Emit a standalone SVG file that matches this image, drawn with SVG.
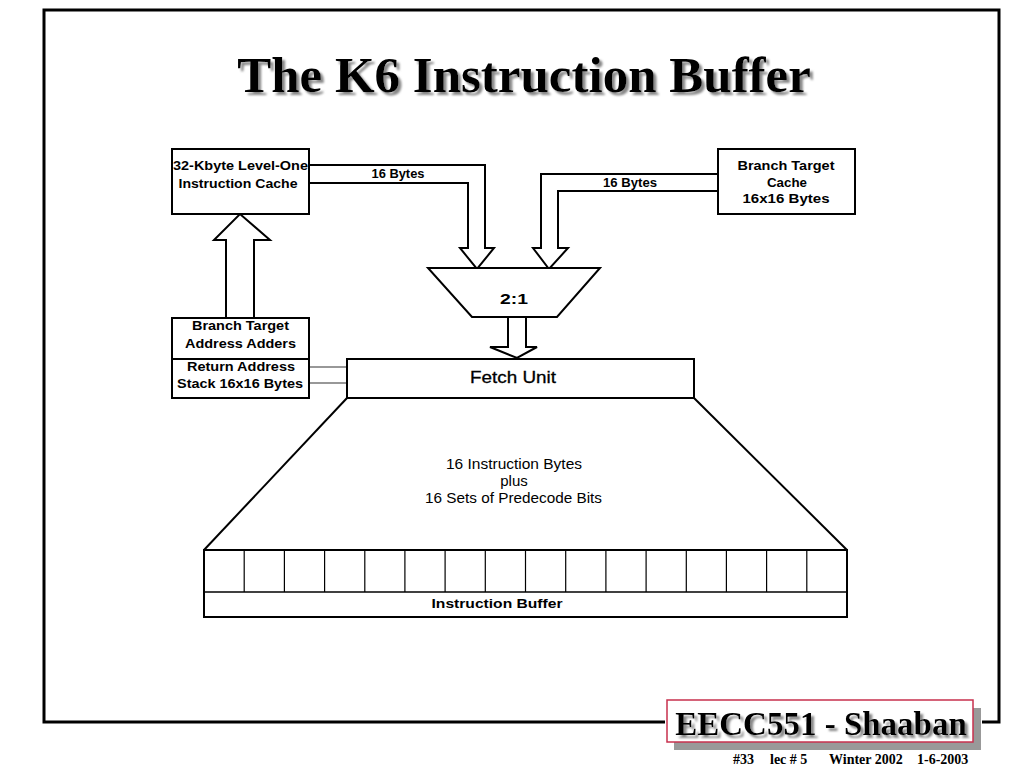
<svg xmlns="http://www.w3.org/2000/svg" width="1024" height="768" viewBox="0 0 1024 768">
<defs>
<style>
.box{fill:#fff;stroke:#000;stroke-width:2}
.pipe{fill:#fff;stroke:#000;stroke-width:2;stroke-linejoin:miter}
.thin{fill:none;stroke:#333;stroke-width:1.2}
.lb{font-family:"Liberation Sans",Arial,sans-serif;font-weight:bold;font-size:12.5px;fill:#000;text-anchor:middle}
.ln{font-family:"Liberation Sans",Arial,sans-serif;font-size:15px;fill:#000;text-anchor:middle}
.tt{font-family:"Liberation Serif","Times New Roman",serif;font-weight:bold;text-anchor:middle}
.ft{font-family:"Liberation Serif","Times New Roman",serif;font-weight:bold;font-size:14px;fill:#000}
</style>
<filter id="shadow" x="-5%" y="-20%" width="110%" height="140%">
<feDropShadow dx="3" dy="3" stdDeviation="0.8" flood-color="#888" flood-opacity="1"/>
</filter>
</defs>
<rect width="1024" height="768" fill="#fff"/>

<g id="frame">
<polyline points="665,722 44,722 44,10 999,10 999,722 982,722" fill="none" stroke="#000" stroke-width="3"/>
</g>

<g id="title">
<text class="tt" x="524" y="92" style="font-size:51px" fill="#000" filter="url(#shadow)">The K6 Instruction Buffer</text>
</g>

<g id="connectors">
<path class="pipe" d="M309,165 H485 V248 H494 L477,269 L460,248 H468 V183 H309"/>
<path class="pipe" d="M718,174 H541 V248 H533 L549,269 L568,248 H558 V191 H718"/>
<path class="pipe" d="M226,318 V240 H214 L240,214 L270,240 H254 V318"/>
<path class="pipe" d="M508,317 V347 H490 L517,358 L537,347 H526 V317"/>
<line class="thin" x1="309" y1="367" x2="347" y2="367"/>
<line class="thin" x1="309" y1="383" x2="347" y2="383"/>
<text class="lb" x="398" y="178" textLength="53" lengthAdjust="spacingAndGlyphs">16 Bytes</text>
<text class="lb" x="630" y="187" textLength="54" lengthAdjust="spacingAndGlyphs">16 Bytes</text>
</g>

<g id="l1cache">
<rect class="box" x="172" y="149" width="137" height="65"/>
<text class="lb" x="240.5" y="170" textLength="135" lengthAdjust="spacingAndGlyphs">32-Kbyte Level-One</text>
<text class="lb" x="238" y="188" textLength="119" lengthAdjust="spacingAndGlyphs">Instruction Cache</text>
</g>

<g id="btc">
<rect class="box" x="718" y="149" width="137" height="65"/>
<text class="lb" x="786" y="170" textLength="97" lengthAdjust="spacingAndGlyphs">Branch Target</text>
<text class="lb" x="787" y="187" style="font-size:13px" textLength="40" lengthAdjust="spacingAndGlyphs">Cache</text>
<text class="lb" x="786" y="203" textLength="87" lengthAdjust="spacingAndGlyphs">16x16 Bytes</text>
</g>

<g id="btaa">
<rect class="box" x="172" y="318" width="137" height="41"/>
<text class="lb" x="240.5" y="330" textLength="97" lengthAdjust="spacingAndGlyphs">Branch Target</text>
<text class="lb" x="240.5" y="348" textLength="111" lengthAdjust="spacingAndGlyphs">Address Adders</text>
</g>

<g id="ras">
<rect class="box" x="172" y="359" width="137" height="39"/>
<text class="lb" x="241" y="371" textLength="108" lengthAdjust="spacingAndGlyphs">Return Address</text>
<text class="lb" x="240" y="388" textLength="126" lengthAdjust="spacingAndGlyphs">Stack 16x16 Bytes</text>
</g>

<g id="mux">
<polygon class="box" points="428,268 600,268 557,317 472,317"/>
<text class="lb" x="514" y="304" style="font-size:15px" textLength="28" lengthAdjust="spacingAndGlyphs">2:1</text>
</g>

<g id="fetch">
<rect class="box" x="347" y="359" width="347" height="39"/>
<text class="ln" x="513" y="383" style="font-size:17px" textLength="86" lengthAdjust="spacingAndGlyphs" stroke="#000" stroke-width="0.3">Fetch Unit</text>
</g>

<g id="predecode">
<polyline points="347,398 204,550" fill="none" stroke="#000" stroke-width="2"/>
<polyline points="694,398 847,550" fill="none" stroke="#000" stroke-width="2"/>
<text class="ln" x="514" y="469" textLength="136" lengthAdjust="spacingAndGlyphs">16 Instruction Bytes</text>
<text class="ln" x="514" y="486">plus</text>
<text class="ln" x="513.5" y="503" textLength="177" lengthAdjust="spacingAndGlyphs">16 Sets of Predecode Bits</text>
</g>

<g id="buffer">
<rect class="box" x="204" y="550" width="643" height="67"/>
<line x1="204" y1="592" x2="847" y2="592" stroke="#000" stroke-width="1.5"/>
<g stroke="#000" stroke-width="1.2">
<line x1="244.2" y1="550" x2="244.2" y2="592"/>
<line x1="284.4" y1="550" x2="284.4" y2="592"/>
<line x1="324.6" y1="550" x2="324.6" y2="592"/>
<line x1="364.8" y1="550" x2="364.8" y2="592"/>
<line x1="404.9" y1="550" x2="404.9" y2="592"/>
<line x1="445.1" y1="550" x2="445.1" y2="592"/>
<line x1="485.3" y1="550" x2="485.3" y2="592"/>
<line x1="525.5" y1="550" x2="525.5" y2="592"/>
<line x1="565.7" y1="550" x2="565.7" y2="592"/>
<line x1="605.9" y1="550" x2="605.9" y2="592"/>
<line x1="646.1" y1="550" x2="646.1" y2="592"/>
<line x1="686.3" y1="550" x2="686.3" y2="592"/>
<line x1="726.4" y1="550" x2="726.4" y2="592"/>
<line x1="766.6" y1="550" x2="766.6" y2="592"/>
<line x1="806.8" y1="550" x2="806.8" y2="592"/>
</g>
<text class="lb" x="497" y="608" style="font-size:13px" textLength="131" lengthAdjust="spacingAndGlyphs">Instruction Buffer</text>
</g>

<g id="footer">
<rect x="674" y="708" width="307" height="42" fill="#999"/>
<rect x="667" y="700" width="306" height="42" fill="#fff" stroke="#c8304e" stroke-width="1.5"/>
<text class="tt" x="821" y="735" style="font-size:33px" fill="#000" filter="url(#shadow)">EECC551 - Shaaban</text>
<text class="ft" x="733" y="764">#33</text>
<text class="ft" x="770" y="764">lec # 5</text>
<text class="ft" x="829" y="764">Winter 2002</text>
<text class="ft" x="917" y="764">1-6-2003</text>
</g>
</svg>
